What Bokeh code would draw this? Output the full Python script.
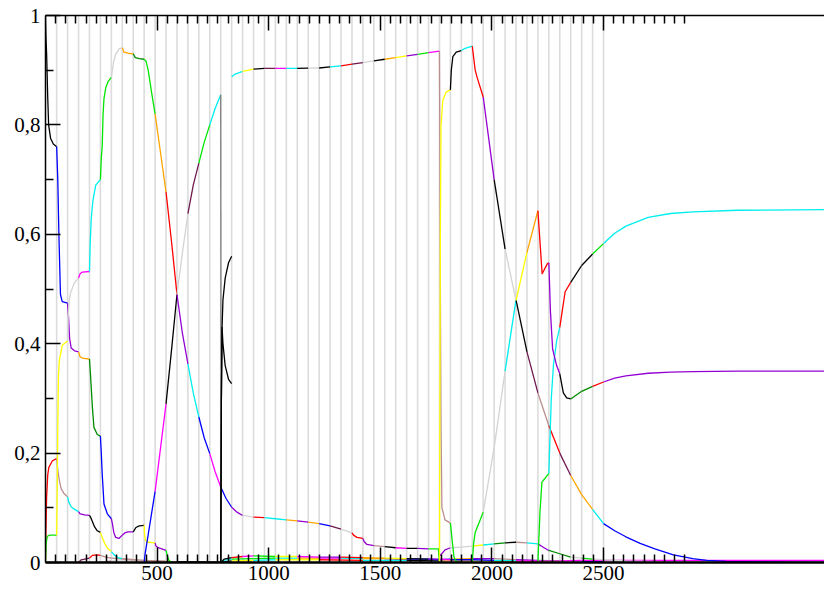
from bokeh.plotting import figure
from bokeh.models import ColumnDataSource, FixedTicker, LinearAxis, CustomJSTickFormatter, Range1d
from bokeh.embed import file_html
from bokeh.resources import INLINE

X_END = 3490
# segment boundaries (vertical light-gray lines)
BREAKS = [50, 99, 148, 197, 246, 295, 344, 393, 442, 491, 540, 589, 638, 687, 736, 785,
          834, 883, 932, 981, 1030, 1079, 1128, 1177, 1226, 1275, 1324, 1373, 1422, 1471,
          1520, 1569, 1618, 1667, 1716, 1765, 1814, 1863, 1912, 1961, 2010, 2059, 2108,
          2157, 2206, 2255, 2304, 2353, 2402, 2451, 2500]

X_MAJOR = [500, 1000, 1500, 2000, 2500]
Y_MAJOR = [0, 0.2, 0.4, 0.6, 0.8, 1.0]
Y_MINOR = [0.1, 0.3, 0.5, 0.7, 0.9]

PALETTE = {
    "k": "#000000", "r": "#ff0000", "g": "#00e600", "b": "#0000ff", "y": "#ffff00",
    "c": "#00eeee", "m": "#ff00ff", "o": "#ffa500", "p": "#9400d3", "n": "#bc8f8f",
    "l": "#d3d3d3", "d": "#008b00", "v": "#701a50", "a": "#808080",
}

# ---- curves: x, y, first segment index (-1 = [0,50]), colour code per segment ----
a_x = [0, 2, 5, 10, 14, 23, 35, 50, 55, 60, 67, 75, 99, 103, 108, 115, 130, 148, 155, 170, 197,
       202, 210, 217, 232, 246, 250, 254, 262, 277, 295, 300, 306, 314, 329, 344, 355, 370, 393,
       405, 420, 442, 444, 448, 460, 491, 495, 505, 540, 546, 553, 565]
a_y = [1.0, 0.96, 0.93, 0.85, 0.80, 0.775, 0.765, 0.76, 0.70, 0.60, 0.49, 0.477, 0.474, 0.45,
       0.41, 0.392, 0.387, 0.385, 0.376, 0.373, 0.372, 0.34, 0.284, 0.247, 0.234, 0.231, 0.2,
       0.162, 0.107, 0.089, 0.08, 0.07, 0.055, 0.046, 0.044, 0.05, 0.054, 0.056, 0.056, 0.064,
       0.067, 0.068, 0.05, 0.04, 0.037, 0.036, 0.03, 0.027, 0.022, 0.012, 0.004, 0.0]
a_first, a_col = -1, "kbpodbppkypg"

b_x = [0, 2, 5, 10, 15, 31, 50, 55, 62, 70, 83, 99, 105, 115, 127, 148, 155, 175, 197, 203, 210,
       220, 232, 246, 255, 265, 280, 295, 310, 325, 344, 393, 442, 491, 540]
b_y = [0.0, 0.06, 0.12, 0.16, 0.174, 0.186, 0.19, 0.17, 0.15, 0.135, 0.126, 0.12, 0.11, 0.102,
       0.098, 0.093, 0.089, 0.087, 0.086, 0.082, 0.075, 0.065, 0.058, 0.055, 0.045, 0.035, 0.025,
       0.02, 0.013, 0.009, 0.007, 0.005, 0.004, 0.003, 0.002]
b_first, b_col = -1, "rncpkycnnnn"

c_x = [0, 3, 8, 20, 50, 52, 55, 58, 62, 75, 99, 102, 106, 113, 130, 148, 155, 165, 197, 200, 205,
       212, 225, 246, 250, 254, 258, 262, 270, 280, 295, 305, 315, 330, 344, 352, 370, 393, 402,
       420, 442, 450, 460, 475, 491, 515, 540, 565, 589, 613, 638, 662, 687, 711, 736, 760, 785,
       787]
c_y = [0.0, 0.035, 0.048, 0.05, 0.05, 0.12, 0.25, 0.34, 0.37, 0.397, 0.405, 0.45, 0.48, 0.494,
       0.512, 0.52, 0.528, 0.531, 0.532, 0.58, 0.63, 0.66, 0.69, 0.70, 0.74, 0.76, 0.82, 0.848,
       0.868, 0.879, 0.887, 0.915, 0.93, 0.939, 0.941, 0.933, 0.931, 0.93, 0.923, 0.921, 0.92,
       0.917, 0.9, 0.86, 0.82, 0.75, 0.677, 0.585, 0.49, 0.565, 0.638, 0.69, 0.73, 0.768, 0.80,
       0.83, 0.855, 0.0]
c_first, c_col = -1, "gylmcglodgorlvgca"

d_x = [785, 788, 791, 795, 805, 820, 834]
d_y = [0.0, 0.3, 0.43, 0.48, 0.52, 0.548, 0.56]
e_x = [785, 788, 791, 795, 805, 820, 834]
e_y = [0.0, 0.3, 0.43, 0.40, 0.36, 0.335, 0.327]
de_first, de_col = 15, "k"

g_x = [442, 446, 491, 540, 565, 589, 613, 638, 662, 687, 711, 736, 760, 785, 809, 834, 858, 883,
       932, 981, 1030, 1079, 1128, 1177, 1226, 1275, 1324, 1373, 1380, 1395, 1422, 1428, 1440,
       1471, 1520, 1569, 1618, 1667, 1716, 1760, 1764]
g_y = [0.0, 0.015, 0.13, 0.29, 0.39, 0.49, 0.42, 0.363, 0.31, 0.266, 0.228, 0.199, 0.166, 0.138,
       0.117, 0.101, 0.092, 0.086, 0.083, 0.082, 0.080, 0.078, 0.076, 0.074, 0.071, 0.067, 0.061,
       0.054, 0.05, 0.046, 0.044, 0.038, 0.033, 0.031, 0.029, 0.027, 0.026, 0.026, 0.025, 0.025,
       0.003]
g_first, g_col = 8, "bmkpcbmbplrccopobvlrpnkmkpg"

f_x = [834, 850, 883, 932, 981, 1030, 1079, 1128, 1177, 1226, 1275, 1324, 1373, 1422, 1471, 1520,
       1569, 1618, 1667, 1716, 1765, 1768, 1772, 1776, 1790, 1814, 1822, 1830, 1840, 1863]
f_y = [0.888, 0.893, 0.898, 0.902, 0.9035, 0.9035, 0.9035, 0.9035, 0.9037, 0.904, 0.906, 0.908,
       0.911, 0.914, 0.917, 0.92, 0.923, 0.926, 0.929, 0.932, 0.935, 0.6, 0.25, 0.10, 0.078,
       0.072, 0.04, 0.01, 0.002, 0.0]
f_first, f_col = 16, "cykvmcklkcrvlkoypgmng"

i_x = [1765, 1767, 1769, 1772, 1780, 1795, 1814, 1818, 1825, 1840, 1863, 1880, 1912, 1925, 1935,
       1961, 2010, 2059, 2108, 2157, 2206, 2225, 2248, 2255, 2262, 2272, 2290, 2304, 2320, 2335,
       2353, 2402, 2451, 2500, 2550, 2600, 2700, 2800, 2900, 3100, 3490]
i_y = [0.0, 0.3, 0.6, 0.8, 0.845, 0.86, 0.864, 0.9, 0.925, 0.933, 0.936, 0.94, 0.944, 0.9, 0.885,
       0.851, 0.70, 0.573, 0.479, 0.567, 0.643, 0.528, 0.546, 0.548, 0.46, 0.39, 0.36, 0.345,
       0.31, 0.301, 0.299, 0.313, 0.322, 0.33, 0.337, 0.341, 0.346, 0.348, 0.349, 0.35, 0.35]
i_first, i_col = 35, "ykcrpklyorpkddrp"

h_x = [1765, 1775, 1790, 1814, 1863, 1912, 1961, 2010, 2059, 2108, 2157, 2206, 2230, 2255, 2304,
       2353, 2402, 2451, 2500, 2600, 2800, 3490]
h_y = [0.012, 0.016, 0.023, 0.027, 0.028, 0.030, 0.032, 0.034, 0.036, 0.037, 0.036, 0.034, 0.028,
       0.022, 0.016, 0.010, 0.008, 0.006, 0.005, 0.003, 0.001, 0.0]
h_first, h_col = 35, "pllycdkncpddlgll"

l_x = [1912, 1918, 1925, 1961, 2010, 2059, 2108, 2157, 2206, 2255, 2304, 2353, 2402, 2451, 2500,
       2550, 2600, 2664, 2730, 2813, 2900, 2963, 3050, 3200, 3490]
l_y = [0.0, 0.035, 0.055, 0.092, 0.21, 0.35, 0.48, 0.385, 0.31, 0.25, 0.20, 0.159, 0.124, 0.097,
       0.071, 0.058, 0.047, 0.035, 0.025, 0.014, 0.007, 0.004, 0.002, 0.001, 0.0]
l_first, l_col = 38, "gllckvnrvoocb"

j_x = [2206, 2215, 2224, 2240, 2255, 2266, 2276, 2290, 2304, 2328, 2353, 2402, 2451, 2500, 2550,
       2600, 2700, 2800, 2900, 3100, 3490]
j_y = [0.0, 0.09, 0.147, 0.155, 0.163, 0.3, 0.363, 0.405, 0.43, 0.495, 0.512, 0.543, 0.564, 0.583,
       0.602, 0.615, 0.631, 0.638, 0.641, 0.644, 0.645]
j_first, j_col = 44, "gcrkkgc"

# ---- near-zero background series ----
z1_x = [148, 160, 197, 210, 230, 246, 270, 295, 344, 393, 442, 491, 540, 589, 687, 785, 800, 834,
        883, 932, 1030, 1128, 1226, 1324, 1422, 1520, 1618, 1716, 1765, 1814, 1912, 2010, 2108,
        2206, 2304, 2402, 2500, 2700, 3000, 3490]
z1_y = [0.0, 0.005, 0.008, 0.013, 0.014, 0.013, 0.010, 0.008, 0.006, 0.005, 0.004, 0.003, 0.002,
        0.001, 0.0005, 0.0, 0.006, 0.009, 0.011, 0.012, 0.011, 0.011, 0.010, 0.010, 0.009, 0.008,
        0.007, 0.006, 0.006, 0.005, 0.005, 0.004, 0.003, 0.003, 0.003, 0.004, 0.004, 0.004, 0.004,
        0.004]
z1_first, z1_col = 2, "vrnnnlnnnkkkkkrmmgmypmcpgrmocyrkpmpbbbbcompmmmmmm"

z2_x = [785, 795, 834, 932, 1030, 1128, 1226, 1324, 1422, 1520, 1618, 1716, 1765, 1814, 1912,
        2010, 2108, 2206, 2304, 2402, 2500, 2700, 2900, 3490]
z2_y = [0.0, 0.004, 0.006, 0.007, 0.008, 0.008, 0.008, 0.008, 0.007, 0.007, 0.006, 0.006, 0.005,
        0.006, 0.007, 0.007, 0.005, 0.004, 0.003, 0.002, 0.002, 0.001, 0.0005, 0.0]
z2_first, z2_col = 15, "ccgcgycgocmgcyokvpbbbboppyncpgglllbl"

z3_x = [246, 295, 393, 491, 589, 785, 834, 932, 1030, 1226, 1422, 1618, 1765, 1912, 2059, 2206,
        2353, 2500, 2800, 3490]
z3_y = [0.0, 0.003, 0.003, 0.002, 0.001, 0.0, 0.003, 0.004, 0.005, 0.005, 0.004, 0.004, 0.003,
        0.003, 0.002, 0.002, 0.001, 0.001, 0.0005, 0.0]
z3_first, z3_col = 4, "nnlllkkkkkkkyyycccyccgrgcmcyrkcmogkykrocoygkvkk"

SERIES = [
    (z3_x, z3_y, z3_first, z3_col), (z2_x, z2_y, z2_first, z2_col), (z1_x, z1_y, z1_first, z1_col),
    (h_x, h_y, h_first, h_col), (b_x, b_y, b_first, b_col), (a_x, a_y, a_first, a_col),
    (g_x, g_y, g_first, g_col), (c_x, c_y, c_first, c_col), (d_x, d_y, de_first, de_col),
    (e_x, e_y, de_first, de_col), (f_x, f_y, f_first, f_col), (l_x, l_y, l_first, l_col),
    (j_x, j_y, j_first, j_col), (i_x, i_y, i_first, i_col),
]

EDGES = [0] + BREAKS + [X_END]


def interval_of(xm):
    for j in range(len(EDGES) - 1):
        if EDGES[j] <= xm < EDGES[j + 1]:
            return j - 1
    return len(EDGES) - 3


def split(xs, ys, first, codes):
    pieces = []
    cur = None
    for k in range(len(xs) - 1):
        iv = interval_of(0.5 * (xs[k] + xs[k + 1]))
        if cur is None or cur[0] != iv:
            cur = [iv, [xs[k]], [ys[k]]]
            pieces.append(cur)
        cur[1].append(xs[k + 1])
        cur[2].append(ys[k + 1])
    out = []
    for iv, px, py in pieces:
        idx = min(max(iv - first, 0), len(codes) - 1)
        out.append((px, py, PALETTE[codes[idx]]))
    return out


ml_x, ml_y, ml_c = [], [], []
for xs, ys, first, codes in SERIES:
    for px, py, col in split(xs, ys, first, codes):
        ml_x.append(px)
        ml_y.append(py)
        ml_c.append(col)

p = figure(width=824, height=589, x_range=Range1d(0, X_END), y_range=Range1d(0, 1),
           output_backend="svg", toolbar_location=None,
           min_border_left=45, min_border_right=0, min_border_top=15, min_border_bottom=27)
p.grid.visible = False
p.outline_line_color = None
p.background_fill_color = "white"

# vertical segment boundaries
p.segment(x0=BREAKS, y0=[0] * len(BREAKS), x1=BREAKS, y1=[1] * len(BREAKS),
          line_color="#dcdcdc", line_width=1.6)

p.multi_line(xs="xs", ys="ys", line_color="c", line_width=1.3, line_join="round",
             source=ColumnDataSource(dict(xs=ml_x, ys=ml_y, c=ml_c)))

X_MINOR = [k * 500 / 11 for k in range(1, 64) if k % 11 != 0]
FONT = "'Liberation Serif', 'Times New Roman', serif"


def style_axis(ax):
    ax.axis_line_color = "black"
    ax.axis_line_width = 1.5
    ax.major_tick_line_color = "black"
    ax.minor_tick_line_color = "black"
    ax.major_tick_line_width = 1.5
    ax.minor_tick_line_width = 1.5
    ax.major_tick_in = 15
    ax.major_tick_out = 0
    ax.minor_tick_in = 8
    ax.minor_tick_out = 0
    ax.major_label_text_font = FONT
    ax.major_label_text_color = "black"
    ax.major_label_text_font_size = "21px"


xb = p.xaxis[0]
xb.ticker = FixedTicker(ticks=X_MAJOR, minor_ticks=X_MINOR)
style_axis(xb)
xb.major_label_standoff = 3
xb.axis_line_width = 2.5

yl = p.yaxis[0]
yl.ticker = FixedTicker(ticks=Y_MAJOR, minor_ticks=Y_MINOR)
yl.formatter = CustomJSTickFormatter(code="""
if (Math.abs(tick) < 1e-9) return '0';
if (Math.abs(tick - 1) < 1e-9) return '1';
return tick.toFixed(1).replace('.', ',');
""")
style_axis(yl)
yl.major_label_standoff = 5

top = LinearAxis(ticker=FixedTicker(ticks=X_MAJOR, minor_ticks=X_MINOR),
                 formatter=CustomJSTickFormatter(code="return '';"))
style_axis(top)
top.major_label_text_font_size = "1px"
top.major_label_standoff = 0
p.add_layout(top, "above")

open("out.html", "w").write(file_html(p, INLINE))
